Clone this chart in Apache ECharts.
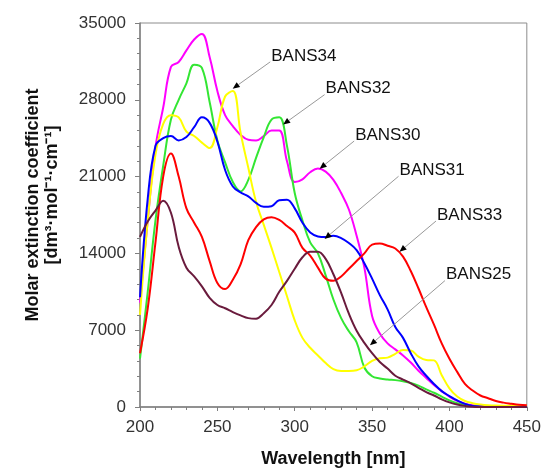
<!DOCTYPE html>
<html><head><meta charset="utf-8">
<script src="https://cdn.jsdelivr.net/npm/echarts@6/dist/echarts.min.js"></script>
<style>html,body{margin:0;padding:0;background:#fff}#c{width:544px;height:473px}</style>
</head><body><div id="c"></div>
<script>
const wavelengths = [200,205,210,215,220,225,230,235,240,245,250,255,260,265,270,275,280,285,290,295,300,305,310,315,320,325,330,335,340,345,350,355,360,365,370,375,380,385,390,395,400,405,410,415,420,425,430,435,440,445,450];

const bans30 = [9500,17000,23700,27300,31000,31450,32500,33500,34000,31900,28800,26600,25600,24800,24350,24300,24700,25200,25200,22400,20500,20750,21400,21730,21450,20700,19500,18000,15600,12700,8300,6700,5800,5250,4700,4050,3300,2650,2000,1450,950,550,300,150,80,50,40,30,30,30,30];
const bans32 = [4400,10500,17000,22000,26200,28000,29500,31200,30900,27800,24300,22300,20500,19650,20700,22700,24600,26200,26400,23800,19500,17000,15000,14000,12000,9800,8100,6900,5900,3600,2800,2600,2500,2450,2350,2200,1950,1600,1300,950,600,350,180,80,30,0,0,0,0,0,0];
const bans34 = [8400,17000,23000,25800,26600,26400,25100,24700,24100,23600,25500,28300,28800,25000,21800,18700,16600,14500,12300,10100,7900,6300,5400,4700,4000,3450,3290,3290,3350,3700,4200,4440,4500,4850,5200,5150,4600,4290,4250,2900,1700,950,550,350,230,160,130,120,120,120,120];
const bans31 = [10000,19000,23800,24500,24700,24300,24600,25500,26400,25900,24200,21600,20100,19550,19200,18600,18250,18300,18850,18900,18100,16800,15900,15550,15500,15600,15400,14950,14300,13100,11700,10200,8900,7300,6300,4900,3700,2850,2100,1450,1000,600,280,100,30,0,0,0,0,0,0];
const bans33 = [4900,9000,15000,21000,23100,21000,18100,16800,15500,13300,11300,10750,11600,13000,15200,16400,17100,17300,17050,16500,15900,14500,13800,12700,11700,11500,11900,12600,13300,14000,14800,14900,14700,14450,13700,12400,10800,9100,7500,5800,4400,3200,2100,1500,1050,800,550,400,300,210,150];
const bans25 = [15500,16900,17900,18800,17700,14600,12700,11900,11000,9950,9300,9000,8650,8350,8100,8050,8550,9300,10500,11500,12600,13650,14150,14150,13500,12100,10400,8500,6950,5850,4900,4100,3500,2850,2500,2150,1750,1350,1050,700,420,220,100,30,0,0,0,0,0,0,0];

const seriesNames = ['BANS30','BANS32','BANS34','BANS31','BANS33','BANS25'];
const seriesValues = [bans30, bans32, bans34, bans31, bans33, bans25];
const seriesColors = ['#ff00ff','#33e633','#ffff00','#0000ff','#ff0000','#6a1b3d'];

const xTicks = [200,250,300,350,400,450];
const yTicks = [0,7000,14000,21000,28000,35000];

// annotation arrows: label start point and arrow target, in data units [nm, value]
const annoNames = ['BANS34','BANS32','BANS30','BANS31','BANS33','BANS25'];
const annoFrom = [[284.2,31460],[319.3,28470],[338.4,24240],[367.1,21030],[391.3,16950],[397.1,11520]];
const annoTo = [[259.9,29010],[292.5,25750],[316.1,21715],[319.3,15320],[367.7,14145],[348.6,5620]];

const chart = echarts.init(document.getElementById('c'), null, {renderer:'canvas'});
const FONT = 'Liberation Sans, Arial, sans-serif';

chart.setOption({
  animation:false,
  backgroundColor:'#fff',
  grid:{left:140,right:12,top:23,bottom:64,show:true,borderColor:'#8c8c8c',borderWidth:1,backgroundColor:'transparent'},
  xAxis:{
    type:'value',min:xTicks[0],max:xTicks[xTicks.length-1],interval:50,
    name:'Wavelength [nm]',nameLocation:'middle',nameGap:43,
    nameTextStyle:{fontFamily:FONT,fontSize:18,fontWeight:'bold',color:'#111'},
    axisLine:{show:true,onZero:false,lineStyle:{color:'#808080',width:1.5}},
    axisTick:{show:true,length:4,lineStyle:{color:'#808080'}},
    minorTick:{show:true,splitNumber:5,length:3,lineStyle:{color:'#808080'}},
    splitLine:{show:false},
    axisLabel:{fontFamily:FONT,fontSize:17,color:'#333',margin:12,formatter:(v)=>String(v)}
  },
  yAxis:{
    type:'value',min:yTicks[0],max:yTicks[yTicks.length-1],interval:7000,
    axisLine:{show:true,onZero:false,lineStyle:{color:'#808080',width:1.5}},
    axisTick:{show:true,length:5,lineStyle:{color:'#808080'}},
    minorTick:{show:true,splitNumber:5,length:3,lineStyle:{color:'#808080'}},
    splitLine:{show:false},
    axisLabel:{fontFamily:FONT,fontSize:17,color:'#333',margin:14,formatter:(v)=>String(v)}
  },
  series: seriesNames.map((n,i)=>({
    name:n,type:'line',showSymbol:false,smooth:0.4,
    data: wavelengths.map((w,j)=>[w, seriesValues[i][j]]),
    lineStyle:{color:seriesColors[i],width:2},
    itemStyle:{color:seriesColors[i]},
    z: 2
  }))
});

const gfx = [];
annoNames.forEach((name,i)=>{
  const p0 = chart.convertToPixel({gridIndex:0}, annoFrom[i]);
  const p1 = chart.convertToPixel({gridIndex:0}, annoTo[i]);
  const dx = p1[0]-p0[0], dy = p1[1]-p0[1];
  const L = Math.sqrt(dx*dx+dy*dy);
  const ux = dx/L, uy = dy/L;
  const hl = 7, hw = 3;
  const bx = p1[0]-ux*hl, by = p1[1]-uy*hl;
  gfx.push({type:'line',shape:{x1:p0[0],y1:p0[1],x2:bx,y2:by},style:{stroke:'#999',lineWidth:1},z:10});
  gfx.push({type:'polygon',shape:{points:[[p1[0],p1[1]],[bx-uy*hw,by+ux*hw],[bx+uy*hw,by-ux*hw]]},style:{fill:'#000'},z:10});
  gfx.push({type:'text',x:p0[0]+1,y:p0[1]-6,style:{text:name,font:'17px '+FONT,fill:'#111',align:'left',verticalAlign:'middle'},z:10});
});
gfx.push({type:'text',x:33,y:205,rotation:Math.PI/2,style:{text:'Molar extinction coefficient',font:'bold 18px '+FONT,fill:'#111',align:'center',verticalAlign:'middle'}});
gfx.push({type:'text',x:52,y:195,rotation:Math.PI/2,style:{text:'[dm³·mol⁻¹·cm⁻¹]',font:'bold 18px '+FONT,fill:'#111',align:'center',verticalAlign:'middle'}});
chart.setOption({graphic:gfx});
</script>
</body></html>
